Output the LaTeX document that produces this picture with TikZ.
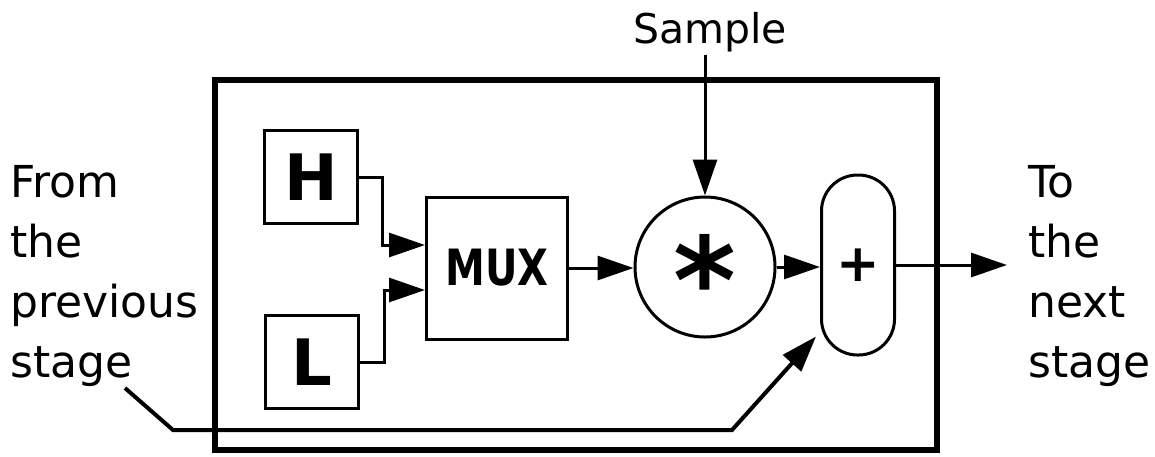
\documentclass[tikz,border=0pt]{standalone}
\usepackage{fontspec}
\usepackage{graphicx}
\setmainfont{DejaVu Sans}
\usetikzlibrary{arrows.meta,calc}

\tikzset{
  wire/.style={line width=3pt},
  flow/.style={wire,-{Triangle[length=36pt,width=24pt]}},
  block/.style={draw,line width=3pt,minimum width=93pt,minimum height=93pt,inner sep=0pt,
    font=\bfseries\fontsize{64}{64}\selectfont},
  sidetext/.style={align=left,inner sep=0pt,anchor=north west,font=\fontsize{44}{60}\selectfont},
}

\begin{document}
\begin{tikzpicture}[x=1pt,y=-1pt]
        \useasboundingbox (0,0) rectangle (1155,456);

        \node[draw,line width=6pt,minimum width=722pt,minimum height=370pt] (cell) at (576,265) {};

        \node[block] (h) at (311,177) {H};
        \node[block] (l) at (312,362) {L};
        \node[block,minimum width=141pt,minimum height=142pt,font=\bfseries\fontsize{50}{50}\selectfont] (mux) at (497,268) {\scalebox{0.8}[1]{MUX}};
        \node[draw,circle,line width=3pt,minimum size=140pt,inner sep=0pt,text height=112pt,text depth=0pt,
              font=\bfseries\fontsize{120}{120}\selectfont] (mult) at (705,267) {*};
        \node[draw,line width=3pt,rounded corners=36pt,minimum width=73pt,minimum height=180pt,
              font=\bfseries\fontsize{52}{52}\selectfont] (plus) at (858,265) {+};

        \node[inner sep=0pt,anchor=base,font=\fontsize{41}{41}\selectfont] (sample) at (710,43) {Sample};
        \node[sidetext] (from) at (10,165) {From\\the\\previous\\stage};
        \node[sidetext] (to) at (1028,165) {To\\the\\next\\stage};

        \coordinate (fb) at (125,388);
        \coordinate (tip) at ($(plus.south west)+(-4,-20)$);
        \coordinate (out) at (1007,265);

        \draw[flow] (h.east) -- ++(23,0) |- ([yshift=23pt]mux.west);
        \draw[flow] (l.east) -- ++(24,0) |- ([yshift=-22pt]mux.west);
        \draw[flow] (mux.east) -- (mux.east -| mult.west);
        \draw[flow] ([yshift=-3pt]sample.south -| mult.north) -- (mult.north);
        \draw[flow] (mult.east) -- (mult.east -| plus.west);
        \draw[flow] (plus.east) -- (out);
        \draw[flow,line width=4pt] (fb) -- ++(48,42) -- ++(559,0) -- (tip);
    \end{tikzpicture}
\end{document}
